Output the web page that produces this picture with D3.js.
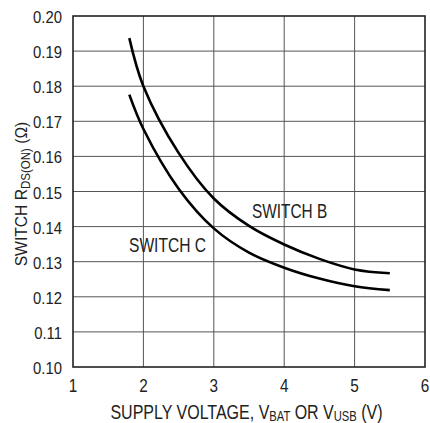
<!DOCTYPE html>
<html>
<head>
<meta charset="utf-8">
<script src="https://cdn.jsdelivr.net/npm/d3@7"></script>
<style>
  html, body { margin: 0; padding: 0; background: #fff; }
  svg text { font-family: "Liberation Sans", Arial, sans-serif; fill: #222; }
</style>
</head>
<body>
<div id="chart"></div>
<script>
// ===== 开关导通电阻 vs 电源电压 =====
const voltage = [1.8, 2.0, 2.5, 3.0, 3.5, 4.0, 4.5, 5.0, 5.5];
const switchB = [0.1937, 0.1800, 0.1610, 0.1480, 0.1402, 0.1349, 0.1308, 0.1278, 0.1267];
const switchC = [0.1776, 0.1678, 0.1508, 0.1395, 0.1326, 0.1283, 0.1252, 0.1230, 0.1219];
const xTicks = [1, 2, 3, 4, 5, 6];
const yTicks = [0.10, 0.11, 0.12, 0.13, 0.14, 0.15, 0.16, 0.17, 0.18, 0.19, 0.20];

(function() {
  const width = 430, height = 423;
  const margin = { top: 16, right: 5, bottom: 56, left: 73 };

  const svg = d3.select('#chart').append('svg')
    .attr('width', width)
    .attr('height', height);

  const x = d3.scaleLinear().domain([1, 6]).range([margin.left, width - margin.right]);
  const y = d3.scaleLinear().domain([0.10, 0.20]).range([height - margin.bottom, margin.top]);

  // 窄体文字：横向压缩
  function narrow(sel, px, py, sx) {
    return sel.attr('transform', `translate(${px},${py}) scale(${sx},1)`);
  }

  // 网格
  svg.append('g')
    .selectAll('line')
    .data(xTicks.slice(1, -1))
    .join('line')
    .attr('x1', d => x(d)).attr('x2', d => x(d))
    .attr('y1', y(0.10)).attr('y2', y(0.20))
    .attr('stroke', '#555').attr('stroke-width', 1);

  svg.append('g')
    .selectAll('line')
    .data(yTicks.slice(1, -1))
    .join('line')
    .attr('x1', x(1)).attr('x2', x(6))
    .attr('y1', d => y(d)).attr('y2', d => y(d))
    .attr('stroke', '#555').attr('stroke-width', 1);

  // 边框
  svg.append('rect')
    .attr('x', x(1)).attr('y', y(0.20))
    .attr('width', x(6) - x(1)).attr('height', y(0.10) - y(0.20))
    .attr('fill', 'none').attr('stroke', '#222').attr('stroke-width', 1.6);

  // 刻度标签
  svg.append('g')
    .selectAll('text')
    .data(yTicks)
    .join('text')
    .each(function(d) { narrow(d3.select(this), 62, y(d) + 7, 0.9); })
    .attr('text-anchor', 'end')
    .attr('font-size', 16.5)
    .text(d => d.toFixed(2));

  svg.append('g')
    .selectAll('text')
    .data(xTicks)
    .join('text')
    .each(function(d) { narrow(d3.select(this), x(d), 392, 0.85); })
    .attr('text-anchor', 'middle')
    .attr('font-size', 18)
    .text(d => d);

  // 曲线
  const line = d3.line()
    .x((d, i) => x(voltage[i]))
    .y(d => y(d))
    .curve(d3.curveCatmullRom.alpha(0.5));

  [switchB, switchC].forEach(series => {
    svg.append('path')
      .datum(series)
      .attr('fill', 'none')
      .attr('stroke', '#000')
      .attr('stroke-width', 2.6)
      .attr('d', line);
  });

  // 曲线标注
  narrow(svg.append('text'), 252, 218, 0.77)
    .attr('font-size', 20)
    .text('SWITCH B');

  narrow(svg.append('text'), 129, 252, 0.78)
    .attr('font-size', 20)
    .text('SWITCH C');

  // X 轴标题
  const xt = narrow(svg.append('text'), 246.5, 419, 0.8)
    .attr('text-anchor', 'middle')
    .attr('font-size', 20);
  xt.append('tspan').text('SUPPLY VOLTAGE, V');
  xt.append('tspan').attr('font-size', 14).attr('dy', 2).text('BAT');
  xt.append('tspan').attr('dy', -2).text(' OR V');
  xt.append('tspan').attr('font-size', 14).attr('dy', 2).text('USB');
  xt.append('tspan').attr('dy', -2).text(' (V)');

  // Y 轴标题
  const yt = svg.append('text')
    .attr('transform', 'translate(27,194) rotate(-90) scale(0.92,1)')
    .attr('text-anchor', 'middle')
    .attr('font-size', 17);
  yt.append('tspan').text('SWITCH R');
  yt.append('tspan').attr('font-size', 12.5).attr('dy', 3).text('DS(ON)');
  yt.append('tspan').attr('dy', -3).text(' (Ω)');
})();
</script>
</body>
</html>
